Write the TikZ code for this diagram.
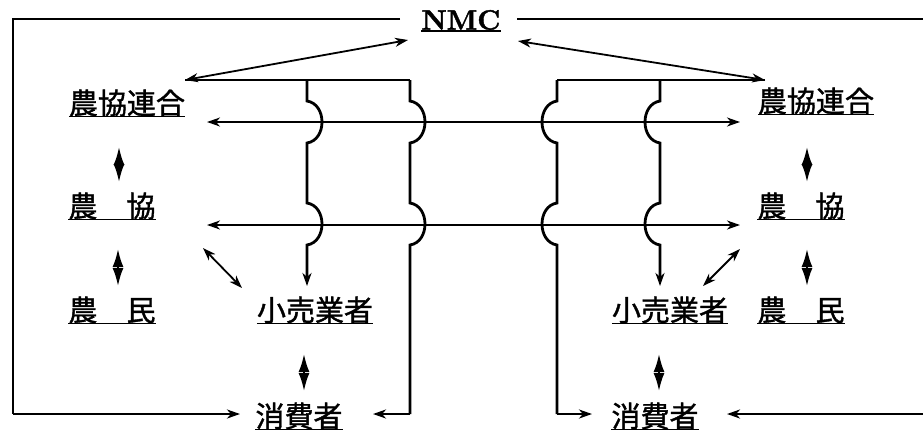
\documentclass[tikz,border=0pt]{standalone}
\usepackage{fontspec}
\newfontfamily\cjk[FakeBold=1.3]{Noto Sans CJK JP}
\newfontfamily\nmcfont{lmroman10-bold}[Extension=.otf, FakeBold=1.5]
\usetikzlibrary{arrows.meta}
\begin{document}
\begin{tikzpicture}[x=1pt,y=-1pt,
  lbl/.style={font=\cjk\fontsize{29}{30}\selectfont, inner sep=0pt, anchor=center},
  nmc/.style={font=\nmcfont\fontsize{28}{29}\selectfont, inner sep=0pt, anchor=center},
  ul/.style={line width=1.6pt},
  frame/.style={line width=2.4pt},
  pipe/.style={line width=2.8pt},
  tip/.style={-{Stealth[length=13pt,width=9pt,inset=4pt]}},
  dtip/.style={{Stealth[length=13pt,width=9pt,inset=4pt]}-{Stealth[length=13pt,width=9pt,inset=4pt]}, line width=1.8pt},
  spindle/.style={{Latex[length=18pt,width=11pt]}-{Latex[length=18pt,width=11pt]}, line width=2pt}
]
\useasboundingbox (0,0) rectangle (923,432);

% labels
\node[nmc] (nmc) at (461,20) {NMC};
\node[lbl] (fedL) at (127,103) {農協連合};
\node[lbl] (coopL) at (112,206) {農　協};
\node[lbl] (farmL) at (112,310) {農　民};
\node[lbl] (retL) at (315,310) {小売業者};
\node[lbl] (conL) at (299,416) {消費者};
\node[lbl] (fedR) at (816,101) {農協連合};
\node[lbl] (coopR) at (801,206) {農　協};
\node[lbl] (farmR) at (801,310) {農　民};
\node[lbl] (retR) at (670,310) {小売業者};
\node[lbl] (conR) at (655,416) {消費者};

% underlines
\draw[ul] ([yshift=-1pt]nmc.south west) -- ([yshift=-1pt]nmc.south east);
\foreach \n in {fedL,coopL,farmL,retL,conL,fedR,coopR,farmR,retR,conR}
  \draw[ul] (\n.south west) -- (\n.south east);

% coordinates
\coordinate (tl) at (13,19);
\coordinate (bl) at (13,414);
\coordinate (tr) at (927,19);
\coordinate (br) at (927,414);
\coordinate (topL) at (400,19);
\coordinate (topR) at (517,19);
\coordinate (aL) at (185,80);
\coordinate (aR) at (765,80);
\coordinate (nL) at (408,40);
\coordinate (nR) at (518,41);

% frame
\draw[frame] (topL) -- (tl) -- (bl);
\draw[frame] (topR) -- (tr) -- (br);
\draw[frame, tip] (bl) -- (240,414);
\draw[frame, tip] (br) -- (727,414);

% NMC links
\draw[dtip] (nL) -- (aL);
\draw[dtip] (nR) -- (aR);

% horizontal double arrows
\draw[dtip] (207,122) -- (740,122);
\draw[dtip] (207,225) -- (740,225);

% top connectors
\draw[line width=2pt] (aL) -- (410,80);
\draw[line width=2pt] (aR) -- (557,80);

% left pipes (bulge right)
\draw[pipe, tip] (307,80) -- (307,101)
  .. controls (327,104) and (327,140) .. (307,143) -- (307,203)
  .. controls (327,206) and (327,242) .. (307,245) -- (307,286);
\draw[pipe] (410,80) -- (410,101)
  .. controls (430,104) and (430,140) .. (410,143) -- (410,203)
  .. controls (430,206) and (430,242) .. (410,245) -- (410,414);
\draw[pipe, tip] (410,414) -- (373,414);

% right pipes (bulge left)
\draw[pipe] (557,80) -- (557,101)
  .. controls (537,104) and (537,140) .. (557,143) -- (557,203)
  .. controls (537,206) and (537,242) .. (557,245) -- (557,414);
\draw[pipe, tip] (557,414) -- (592,414);
\draw[pipe, tip] (660,80) -- (660,101)
  .. controls (640,104) and (640,140) .. (660,143) -- (660,203)
  .. controls (640,206) and (640,242) .. (660,245) -- (660,286);

% vertical spindles
\draw[spindle] (119,147) -- (119,182);
\draw[spindle] (118,249) -- (118,286);
\draw[spindle] (807,147) -- (807,182);
\draw[spindle] (807,249) -- (807,286);
\draw[spindle] (304,354) -- (304,391);
\draw[spindle] (659,354) -- (659,391);

% diagonals
\draw[dtip] (203,248) -- (242,288);
\draw[dtip] (703,286) -- (740,249);
\end{tikzpicture}
\end{document}
